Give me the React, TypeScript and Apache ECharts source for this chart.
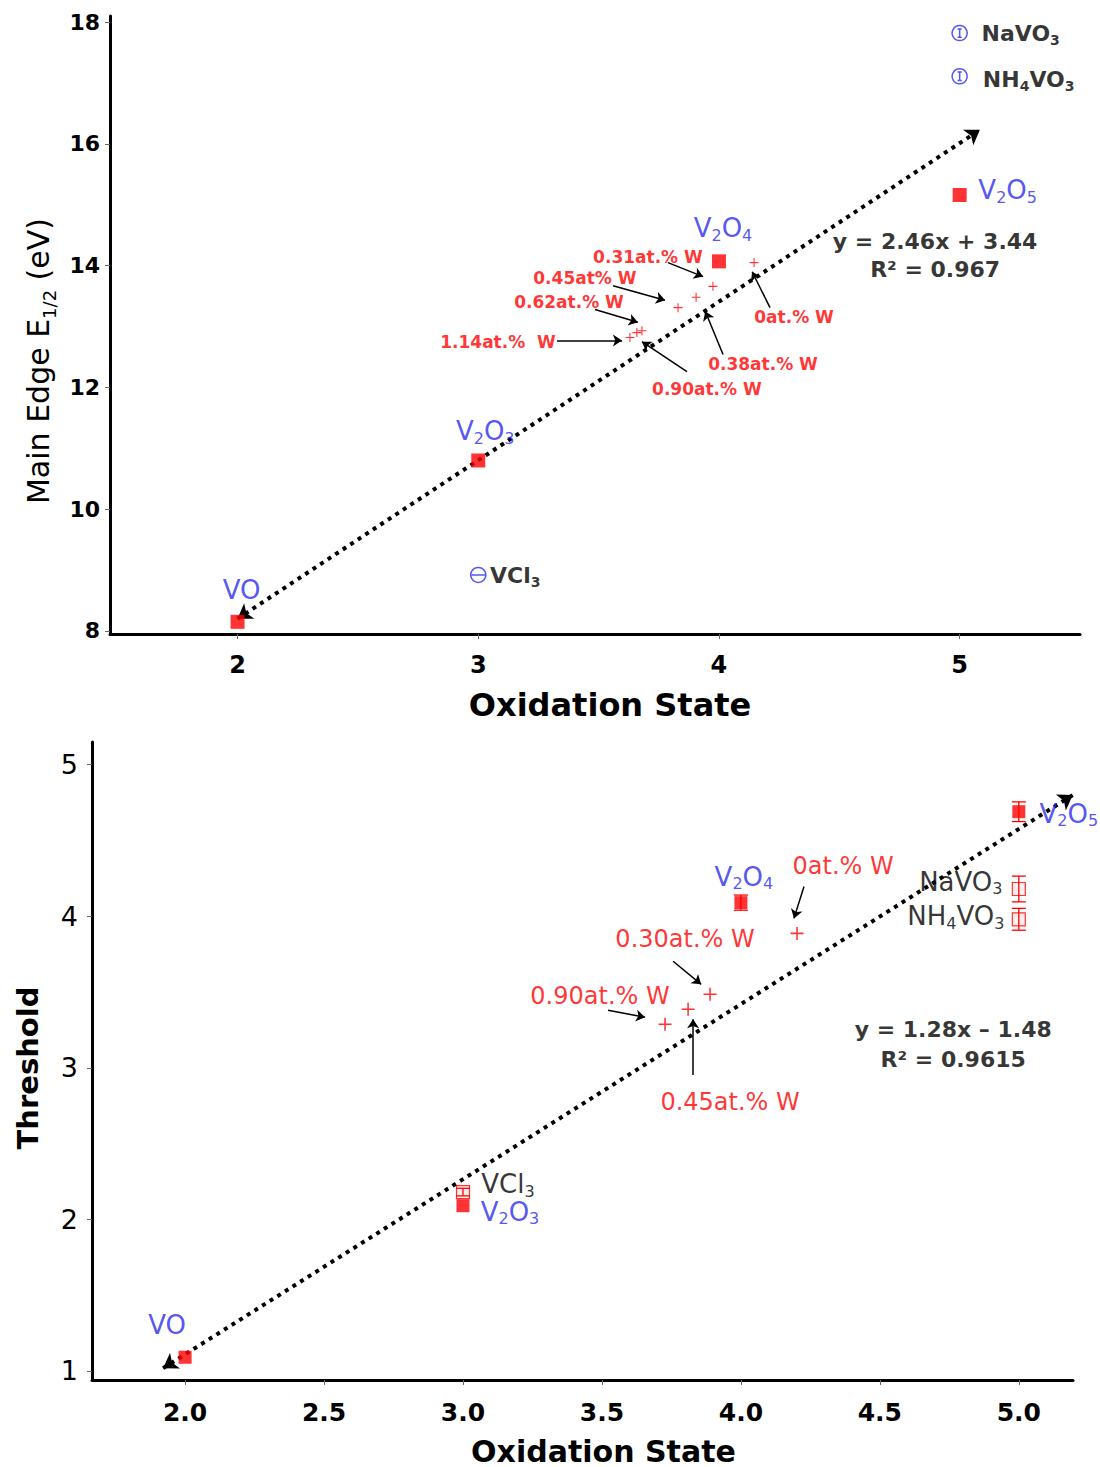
import React, { useEffect, useRef } from 'react';
import * as echarts from 'echarts';

const FONT = 'DejaVu Sans';
const RED = '#ff0000';
const BLUE = '#2a2af0';
const BLACK = '#000000';

// ---------- Top panel: Main Edge E1/2 vs Oxidation State ----------
const topXTicks = [2, 3, 4, 5];
const topYTicks = [8, 10, 12, 14, 16, 18];

const topOxideNames = ['VO', 'V{s|2}O{s|3}', 'V{s|2}O{s|4}', 'V{s|2}O{s|5}'];
const topOxideX = [2, 3, 4, 5];
const topOxideY = [8.15, 10.8, 14.07, 15.16];

const topSaltNames = ['VCl{s|3}', 'NaVO{s|3}', 'NH{s|4}VO{s|3}'];
const topSaltX = [3, 5, 5];
const topSaltY = [8.92, 17.82, 17.11];

const topDopedX = [4.146, 3.975, 3.905, 3.83, 3.68, 3.659, 3.63];
const topDopedY = [14.05, 13.66, 13.48, 13.31, 12.93, 12.9, 12.82];

const topNoteText = ['0.31at.% W', '0.45at% W', '0.62at.% W', '1.14at.%  W', '0.90at.% W', '0.38at.% W', '0at.% W'];
const topNoteX = [3.705, 3.443, 3.377, 3.082, 3.95, 4.183, 4.312];
const topNoteY = [14.15, 13.79, 13.41, 12.75, 11.98, 12.39, 13.15];
const topArrowFrom = [[3.788, 14.05], [3.56, 13.67], [3.485, 13.28], [3.327, 12.77], [3.867, 12.26], [4.017, 12.54], [4.212, 13.31]];
const topArrowTo = [[3.934, 13.82], [3.776, 13.43], [3.663, 13.07], [3.597, 12.77], [3.68, 12.75], [3.943, 13.25], [4.138, 13.9]];

const topTrendFrom = [2.0, 8.2];
const topTrendTo = [5.084, 16.23];
const topFitText = ['y = 2.46x + 3.44', 'R² = 0.967'];
const topFitX = [4.898, 4.898];
const topFitY = [14.39, 13.93];

// ---------- Bottom panel: Threshold vs Oxidation State ----------
const botXTicks = [2, 2.5, 3, 3.5, 4, 4.5, 5];
const botYTicks = [1, 2, 3, 4, 5];

const botOxideNames = ['VO', 'V{s|2}O{s|3}', 'V{s|2}O{s|4}', 'V{s|2}O{s|5}'];
const botOxideX = [2, 3, 4, 5];
const botOxideY = [1.09, 2.09, 4.09, 4.69];

const botSaltNames = ['VCl{s|3}', 'NaVO{s|3}', 'NH{s|4}VO{s|3}'];
const botSaltX = [3, 5, 5];
const botSaltY = [2.18, 4.18, 3.98];

const botErrX = [4, 5, 5, 5, 3];
const botErrLow = [4.04, 4.625, 4.095, 3.908, 2.155];
const botErrHigh = [4.14, 4.755, 4.265, 4.052, 2.205];

const botDopedX = [4.202, 3.889, 3.81, 3.727];
const botDopedY = [3.887, 3.485, 3.387, 3.288];

const botNoteText = ['0at.% W', '0.30at.% W', '0.90at.% W', '0.45at.% W'];
const botNoteX = [4.368, 3.799, 3.493, 3.961];
const botNoteY = [4.334, 3.847, 3.472, 2.775];
const botArrowFrom = [[4.227, 4.196], [3.756, 3.703], [3.522, 3.38], [3.828, 2.953]];
const botArrowTo = [[4.191, 3.986], [3.857, 3.551], [3.655, 3.334], [3.828, 3.321]];

const botTrendFrom = [1.921, 1.018];
const botTrendTo = [5.194, 4.8];
const botFitText = ['y = 1.28x – 1.48', 'R² = 0.9615'];
const botFitX = [4.764, 4.764];
const botFitY = [3.255, 3.058];

// ---------- label placement (style only) ----------
const topOxideLabelOffset = [[4, -32], [7, -29], [4, -33], [48, -5]];
const topSaltLabelOffset = [[37, 1], [61, 0], [69, 3]];
const botOxideLabelOffset = [[-18, -32], [47, 6], [3, -26], [50, 2]];
const botSaltLabelOffset = [[45, -8], [-58, -7], [-63, -3]];

const PLUS = 'path://M4.4 0H5.6V4.4H10V5.6H5.6V10H4.4V5.6H0V4.4H4.4Z';
const CIRCLE_BAR = 'path://M10 1A9 9 0 1 1 9.99 1Z M10 5V15 M7.5 5H12.5 M7.5 15H12.5';
const CIRCLE_DASH = 'path://M10 1A9 9 0 1 1 9.99 1Z M2 10H18';

const subRich = (size: number) => ({
  s: { fontSize: size, lineHeight: Math.round(size * 1.9), verticalAlign: 'bottom' },
});

export default function App() {
  const ref = useRef<HTMLDivElement>(null);
  useEffect(() => {
    if (!ref.current) return;
    const chart = echarts.init(ref.current, null, { renderer: 'svg' });

    const noteSeries = (
      xi: number,
      texts: string[],
      xs: number[],
      ys: number[],
      from: number[][],
      to: number[][],
      fontSize: number,
      fontWeight: string
    ) => ({
      type: 'scatter',
      xAxisIndex: xi,
      yAxisIndex: xi,
      silent: true,
      symbolSize: 1,
      itemStyle: { color: 'rgba(0,0,0,0)' },
      z: 6,
      label: {
        show: true,
        position: 'inside',
        color: RED,
        fontFamily: FONT,
        fontWeight,
        fontSize,
        formatter: (p: any) => texts[p.dataIndex],
      },
      data: xs.map((x, i) => [x, ys[i]]),
      markLine: {
        silent: true,
        animation: false,
        symbol: ['none', 'arrow'],
        symbolSize: 9,
        label: { show: false },
        lineStyle: { color: BLACK, width: 1.5, type: 'solid' },
        data: from.map((f, i) => [{ coord: f }, { coord: to[i] }]),
      },
    });

    const fitSeries = (xi: number, texts: string[], xs: number[], ys: number[], trendFrom: number[], trendTo: number[]) => ({
      type: 'scatter',
      xAxisIndex: xi,
      yAxisIndex: xi,
      silent: true,
      symbolSize: 1,
      itemStyle: { color: 'rgba(0,0,0,0)' },
      z: 6,
      label: {
        show: true,
        position: 'inside',
        color: BLACK,
        fontFamily: FONT,
        fontWeight: 'bold',
        fontSize: 22,
        formatter: (p: any) => texts[p.dataIndex],
      },
      data: xs.map((x, i) => [x, ys[i]]),
      markLine: {
        silent: true,
        animation: false,
        symbol: ['arrow', 'arrow'],
        symbolSize: 14,
        label: { show: false },
        lineStyle: { color: BLACK, width: 4, type: [4, 5] },
        data: [[{ coord: trendFrom }, { coord: trendTo }]],
      },
    });

    const option: any = {
      animation: false,
      backgroundColor: '#ffffff',
      textStyle: { fontFamily: FONT },
      grid: [
        { left: 110, top: 16, width: 970, height: 618 },
        { left: 92, top: 742, width: 981, height: 640 },
      ],
      xAxis: [
        {
          gridIndex: 0,
          type: 'value',
          min: 1.47,
          max: 5.5,
          splitLine: { show: false },
          axisLine: { onZero: false, lineStyle: { color: BLACK, width: 3 } },
          axisTick: { customValues: topXTicks, length: 5, lineStyle: { color: '#666', width: 1 } },
          axisLabel: {
            customValues: topXTicks,
            color: BLACK,
            fontFamily: FONT,
            fontWeight: 'bold',
            fontSize: 24,
            margin: 19,
          },
          name: 'Oxidation State',
          nameLocation: 'middle',
          nameGap: 55,
          nameTextStyle: { color: BLACK, fontFamily: FONT, fontWeight: 'bold', fontSize: 32, padding: [0, 0, 0, 30] },
        },
        {
          gridIndex: 1,
          type: 'value',
          min: 1.665,
          max: 5.195,
          splitLine: { show: false },
          axisLine: { onZero: false, lineStyle: { color: BLACK, width: 3 } },
          axisTick: { customValues: botXTicks, length: 5, lineStyle: { color: '#666', width: 1 } },
          axisLabel: {
            customValues: botXTicks,
            color: BLACK,
            fontFamily: FONT,
            fontWeight: 'bold',
            fontSize: 25,
            margin: 20,
            formatter: (v: number) => v.toFixed(1),
          },
          name: 'Oxidation State',
          nameLocation: 'middle',
          nameGap: 56,
          nameTextStyle: { color: BLACK, fontFamily: FONT, fontWeight: 'bold', fontSize: 30, padding: [0, 0, 0, 42] },
        },
      ],
      yAxis: [
        {
          gridIndex: 0,
          type: 'value',
          min: 7.95,
          max: 18.1,
          splitLine: { show: false },
          axisLine: { onZero: false, lineStyle: { color: BLACK, width: 3 } },
          axisTick: { customValues: topYTicks, length: 5, lineStyle: { color: '#666', width: 1 } },
          axisLabel: {
            customValues: topYTicks,
            color: BLACK,
            fontFamily: FONT,
            fontWeight: 'bold',
            fontSize: 22,
            margin: 10,
          },
          name: 'Main Edge E{s|1/2} (eV)',
          nameLocation: 'middle',
          nameRotate: 90,
          nameGap: 51,
          nameTextStyle: {
            color: BLACK,
            fontFamily: FONT,
            fontSize: 30,
            padding: [0, 72, 0, 0],
            rich: { s: { fontSize: 18, lineHeight: 40, verticalAlign: 'bottom' } },
          },
        },
        {
          gridIndex: 1,
          type: 'value',
          min: 0.94,
          max: 5.15,
          splitLine: { show: false },
          axisLine: { onZero: false, lineStyle: { color: BLACK, width: 3 } },
          axisTick: { customValues: botYTicks, length: 5, lineStyle: { color: '#666', width: 1 } },
          axisLabel: {
            customValues: botYTicks,
            color: BLACK,
            fontFamily: FONT,
            fontSize: 27,
            margin: 14,
          },
          name: 'Threshold',
          nameLocation: 'middle',
          nameRotate: 90,
          nameGap: 50,
          nameTextStyle: { color: BLACK, fontFamily: FONT, fontWeight: 'bold', fontSize: 29, padding: [0, 14, 0, 0] },
        },
      ],
      series: [
        // ---- top panel ----
        fitSeries(0, topFitText, topFitX, topFitY, topTrendFrom, topTrendTo),
        {
          type: 'scatter',
          xAxisIndex: 0,
          yAxisIndex: 0,
          symbol: 'rect',
          symbolSize: 14,
          itemStyle: { color: RED },
          z: 5,
          data: topOxideX.map((x, i) => ({
            value: [x, topOxideY[i]],
            label: { offset: topOxideLabelOffset[i] },
          })),
          label: {
            show: true,
            position: 'inside',
            color: BLUE,
            fontFamily: FONT,
            fontSize: 26,
            formatter: (p: any) => topOxideNames[p.dataIndex],
            rich: subRich(16),
          },
        },
        {
          type: 'scatter',
          xAxisIndex: 0,
          yAxisIndex: 0,
          symbolSize: 15,
          itemStyle: { color: 'rgba(0,0,0,0)', borderColor: BLUE, borderWidth: 1.5 },
          z: 5,
          data: topSaltX.map((x, i) => ({
            value: [x, topSaltY[i]],
            symbol: i === 0 ? CIRCLE_DASH : CIRCLE_BAR,
            label: { offset: topSaltLabelOffset[i] },
          })),
          label: {
            show: true,
            position: 'inside',
            color: BLACK,
            fontFamily: FONT,
            fontWeight: 'bold',
            fontSize: 22,
            formatter: (p: any) => topSaltNames[p.dataIndex],
            rich: subRich(14),
          },
        },
        {
          type: 'scatter',
          xAxisIndex: 0,
          yAxisIndex: 0,
          symbol: PLUS,
          symbolSize: 9,
          itemStyle: { color: RED },
          z: 5,
          data: topDopedX.map((x, i) => [x, topDopedY[i]]),
        },
        noteSeries(0, topNoteText, topNoteX, topNoteY, topArrowFrom, topArrowTo, 17, 'bold'),

        // ---- bottom panel ----
        fitSeries(1, botFitText, botFitX, botFitY, botTrendFrom, botTrendTo),
        {
          type: 'custom',
          xAxisIndex: 1,
          yAxisIndex: 1,
          z: 4,
          encode: { x: 0, y: [1, 2] },
          data: botErrX.map((x, i) => [x, botErrLow[i], botErrHigh[i]]),
          renderItem: (params: any, api: any) => {
            const x = api.value(0);
            const lo = api.coord([x, api.value(1)]);
            const hi = api.coord([x, api.value(2)]);
            const w = 7;
            const st = { stroke: RED, lineWidth: 1.3 };
            return {
              type: 'group',
              children: [
                { type: 'line', shape: { x1: lo[0], y1: lo[1], x2: hi[0], y2: hi[1] }, style: st },
                { type: 'line', shape: { x1: lo[0] - w, y1: lo[1], x2: lo[0] + w, y2: lo[1] }, style: st },
                { type: 'line', shape: { x1: hi[0] - w, y1: hi[1], x2: hi[0] + w, y2: hi[1] }, style: st },
              ],
            };
          },
        },
        {
          type: 'scatter',
          xAxisIndex: 1,
          yAxisIndex: 1,
          symbol: 'rect',
          symbolSize: 13,
          itemStyle: { color: RED },
          z: 5,
          data: botOxideX.map((x, i) => ({
            value: [x, botOxideY[i]],
            label: { offset: botOxideLabelOffset[i] },
          })),
          label: {
            show: true,
            position: 'inside',
            color: BLUE,
            fontFamily: FONT,
            fontSize: 26,
            formatter: (p: any) => botOxideNames[p.dataIndex],
            rich: subRich(16),
          },
        },
        {
          type: 'scatter',
          xAxisIndex: 1,
          yAxisIndex: 1,
          symbol: 'rect',
          symbolSize: 13,
          itemStyle: { color: 'rgba(255,0,0,0.08)', borderColor: RED, borderWidth: 1.2 },
          z: 5,
          data: botSaltX.map((x, i) => ({
            value: [x, botSaltY[i]],
            label: { offset: botSaltLabelOffset[i] },
          })),
          label: {
            show: true,
            position: 'inside',
            color: BLACK,
            fontFamily: FONT,
            fontSize: 26,
            formatter: (p: any) => botSaltNames[p.dataIndex],
            rich: subRich(16),
          },
        },
        {
          type: 'scatter',
          xAxisIndex: 1,
          yAxisIndex: 1,
          symbol: PLUS,
          symbolSize: 13,
          itemStyle: { color: RED },
          z: 5,
          data: botDopedX.map((x, i) => [x, botDopedY[i]]),
        },
        noteSeries(1, botNoteText, botNoteX, botNoteY, botArrowFrom, botArrowTo, 24, 'normal'),
      ],
    };

    chart.setOption(option);
    return () => chart.dispose();
  }, []);

  return (
    <div
      ref={ref}
      style={{ position: 'absolute', left: 0, top: 0, width: 1100, height: 1467, background: '#fff' }}
    />
  );
}
